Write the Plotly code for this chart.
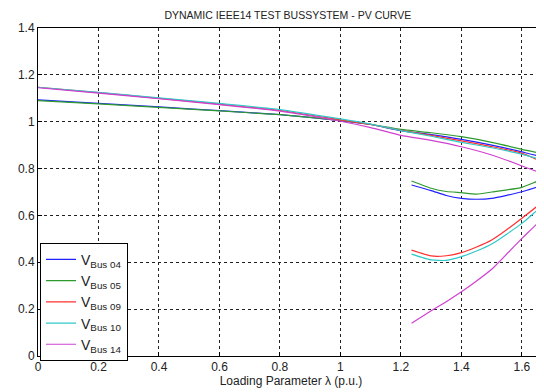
import plotly.graph_objects as go

# Upper (stable) branch
lam_upper = [0, 0.2, 0.4, 0.6, 0.8, 1.0, 1.1, 1.2, 1.3, 1.4, 1.5, 1.6, 1.673]
v04_upper = [1.093, 1.078, 1.063, 1.047, 1.030, 1.005, 0.988, 0.962, 0.945, 0.925, 0.900, 0.871, 0.844]
v05_upper = [1.090, 1.076, 1.061, 1.046, 1.030, 1.006, 0.989, 0.967, 0.953, 0.936, 0.912, 0.882, 0.858]
v09_upper = [1.147, 1.124, 1.100, 1.075, 1.048, 1.008, 0.988, 0.963, 0.942, 0.918, 0.894, 0.865, 0.822]
v10_upper = [1.147, 1.125, 1.102, 1.078, 1.052, 1.012, 0.990, 0.962, 0.938, 0.912, 0.889, 0.861, 0.830]
v14_upper = [1.145, 1.122, 1.098, 1.073, 1.045, 1.002, 0.975, 0.942, 0.920, 0.893, 0.858, 0.811, 0.772]

# Nose points (just beyond the visible range)
nose_lam = [1.700, 1.690, 1.705, 1.705, 1.700]
nose_v = [0.790, 0.810, 0.745, 0.742, 0.690]

# Lower (unstable) branch
lam_lower = [1.235, 1.3, 1.35, 1.4, 1.45, 1.5, 1.6, 1.673]
v04_lower = [0.730, 0.706, 0.685, 0.673, 0.669, 0.673, 0.701, 0.735]
v05_lower = [0.747, 0.716, 0.702, 0.697, 0.691, 0.700, 0.720, 0.762]
v09_lower = [0.452, 0.427, 0.428, 0.441, 0.465, 0.495, 0.588, 0.666]
v10_lower = [0.435, 0.410, 0.408, 0.424, 0.448, 0.478, 0.566, 0.652]
v14_lower = [0.140, 0.193, 0.232, 0.274, 0.320, 0.370, 0.502, 0.597]

names = ["V<sub>Bus 04</sub>", "V<sub>Bus 05</sub>", "V<sub>Bus 09</sub>",
         "V<sub>Bus 10</sub>", "V<sub>Bus 14</sub>"]
colors = ["#2020ff", "#2e9a2e", "#ff3030", "#30c8c8", "#d040d0"]
uppers = [v04_upper, v05_upper, v09_upper, v10_upper, v14_upper]
lowers = [v04_lower, v05_lower, v09_lower, v10_lower, v14_lower]

fig = go.Figure()
for i in range(5):
    xs = lam_upper + [nose_lam[i]] + lam_lower[::-1]
    ys = uppers[i] + [nose_v[i]] + lowers[i][::-1]
    fig.add_trace(go.Scatter(x=xs, y=ys, mode="lines", name=names[i],
                             line=dict(color=colors[i], width=1.2, shape="spline", smoothing=0.5)))

axis_common = dict(showline=True, linecolor="#000", linewidth=1, mirror=True,
                   ticks="inside", ticklen=4, tickcolor="#000",
                   showgrid=True, gridcolor="#222", griddash="3px,3px", gridwidth=1,
                   zeroline=False, automargin=False, tickfont=dict(size=12, color="#222"))

# The page body has an 8px margin, so the figure is sized to fit 544x392 from (8,8)
fig.update_layout(
    width=536, height=384,
    margin=dict(l=30, r=0, t=20, b=36, autoexpand=False),
    paper_bgcolor="white", plot_bgcolor="white",
    font=dict(family="Liberation Sans, Arial, sans-serif", color="#222"),
    title=dict(text="DYNAMIC IEEE14 TEST BUSSYSTEM - PV CURVE", x=0.522, xanchor="center",
               y=0.982, yanchor="middle", font=dict(size=10.5, color="#222")),
    xaxis=dict(range=[0, 1.673], tickvals=[0, 0.2, 0.4, 0.6, 0.8, 1, 1.2, 1.4, 1.6],
               ticktext=["0", "0.2", "0.4", "0.6", "0.8", "1", "1.2", "1.4", "1.6"],
               title=dict(text="Loading Parameter λ (p.u.)", font=dict(size=12, color="#222"), standoff=0),
               ticklabelstandoff=0,
               **axis_common),
    yaxis=dict(range=[0, 1.4], tickvals=[0, 0.2, 0.4, 0.6, 0.8, 1, 1.2, 1.4],
               ticktext=["0", "0.2", "0.4", "0.6", "0.8", "1", "1.2", "1.4"],
               **axis_common),
    legend=dict(x=0.004, y=0.345, xanchor="left", yanchor="top",
                bgcolor="white", bordercolor="#000", borderwidth=1,
                entrywidth=100, entrywidthmode="pixels",
                font=dict(size=14, color="#222"), tracegroupgap=0),
    showlegend=True,
)

fig.write_html("out.html")
